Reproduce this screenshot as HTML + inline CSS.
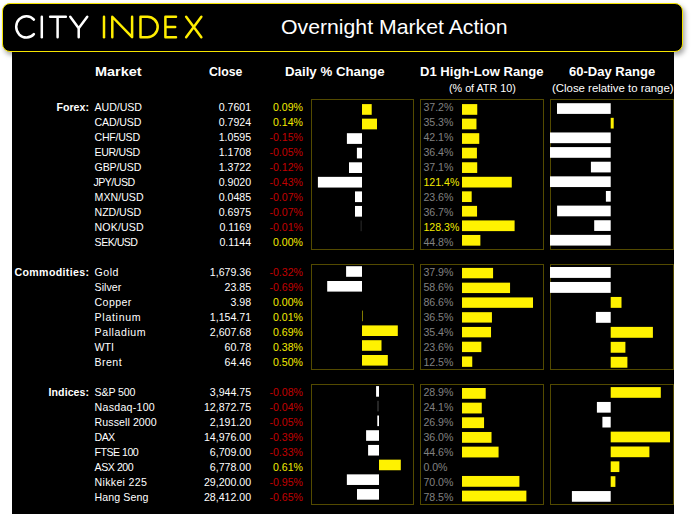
<!DOCTYPE html>
<html><head><meta charset="utf-8"><style>
*{margin:0;padding:0;box-sizing:border-box}
html,body{width:694px;height:514px;overflow:hidden;background:#fff}
body{position:relative;font-family:"Liberation Sans", sans-serif}
#main{position:absolute;left:12px;top:40px;width:662px;height:474px;background:#000}
#hdr{position:absolute;left:2px;top:3px;width:681px;height:49px;background:#000;border:1.6px solid #f5e400;border-radius:8px;box-shadow:2px 3px 5px rgba(0,0,0,.35)}
svg{position:absolute;left:0;top:0}
.t{position:absolute;white-space:nowrap;line-height:1em;transform-origin:0 0}
</style></head><body>
<div id="main"></div>
<div id="hdr"></div>
<svg width="694" height="514" viewBox="0 0 694 514">
<rect x="311.5" y="99.5" width="102" height="150" fill="none" stroke="#534a00" stroke-width="1"/>
<rect x="420.5" y="99.5" width="123" height="150" fill="none" stroke="#534a00" stroke-width="1"/>
<rect x="550.5" y="99.5" width="123" height="150" fill="none" stroke="#534a00" stroke-width="1"/>
<rect x="362.00" y="104.10" width="9.70" height="10.7" fill="#fff200"/>
<rect x="462" y="104.10" width="15.25" height="10.7" fill="#fff200"/>
<rect x="557.00" y="103.20" width="53.70" height="10.7" fill="#ffffff"/>
<rect x="362.00" y="118.65" width="15.00" height="10.7" fill="#fff200"/>
<rect x="462" y="118.64" width="14.47" height="10.7" fill="#fff200"/>
<rect x="610.70" y="117.83" width="3.00" height="10.7" fill="#fff200"/>
<rect x="346.90" y="133.20" width="15.10" height="10.7" fill="#ffffff"/>
<rect x="462" y="133.18" width="17.26" height="10.7" fill="#fff200"/>
<rect x="550.00" y="132.46" width="60.70" height="10.7" fill="#ffffff"/>
<rect x="356.90" y="147.75" width="5.10" height="10.7" fill="#ffffff"/>
<rect x="462" y="147.72" width="14.92" height="10.7" fill="#fff200"/>
<rect x="550.00" y="147.09" width="60.70" height="10.7" fill="#ffffff"/>
<rect x="349.00" y="162.30" width="13.00" height="10.7" fill="#ffffff"/>
<rect x="462" y="162.26" width="15.21" height="10.7" fill="#fff200"/>
<rect x="590.90" y="161.72" width="19.80" height="10.7" fill="#ffffff"/>
<rect x="317.90" y="176.85" width="44.10" height="10.7" fill="#ffffff"/>
<rect x="462" y="176.80" width="49.77" height="10.7" fill="#fff200"/>
<rect x="550.00" y="176.35" width="60.70" height="10.7" fill="#ffffff"/>
<rect x="355.00" y="191.40" width="7.00" height="10.7" fill="#ffffff"/>
<rect x="462" y="191.34" width="9.68" height="10.7" fill="#fff200"/>
<rect x="605.90" y="190.98" width="4.80" height="10.7" fill="#ffffff"/>
<rect x="355.00" y="205.95" width="7.00" height="10.7" fill="#ffffff"/>
<rect x="462" y="205.88" width="15.05" height="10.7" fill="#fff200"/>
<rect x="557.10" y="205.61" width="53.60" height="10.7" fill="#ffffff"/>
<rect x="360.40" y="220.50" width="1.6" height="10.7" fill="#1c1c1c"/>
<rect x="462" y="220.42" width="52.60" height="10.7" fill="#fff200"/>
<rect x="594.20" y="220.24" width="16.50" height="10.7" fill="#ffffff"/>
<rect x="462" y="234.96" width="18.37" height="10.7" fill="#fff200"/>
<rect x="550.00" y="234.87" width="60.70" height="10.7" fill="#ffffff"/>
<rect x="311.5" y="264.5" width="102" height="105" fill="none" stroke="#534a00" stroke-width="1"/>
<rect x="420.5" y="264.5" width="123" height="105" fill="none" stroke="#534a00" stroke-width="1"/>
<rect x="550.5" y="264.5" width="123" height="105" fill="none" stroke="#534a00" stroke-width="1"/>
<rect x="346.10" y="266.20" width="15.90" height="10.6" fill="#ffffff"/>
<rect x="462" y="267.90" width="31.08" height="10.4" fill="#fff200"/>
<rect x="550.00" y="267.00" width="60.70" height="10.9" fill="#ffffff"/>
<rect x="327.20" y="281.00" width="34.80" height="10.6" fill="#ffffff"/>
<rect x="462" y="282.66" width="48.05" height="10.4" fill="#fff200"/>
<rect x="550.00" y="281.97" width="60.70" height="10.9" fill="#ffffff"/>
<rect x="462" y="297.42" width="71.01" height="10.4" fill="#fff200"/>
<rect x="610.70" y="296.94" width="10.80" height="10.9" fill="#fff200"/>
<rect x="362.00" y="310.60" width="0.51" height="10.6" fill="#fff200"/>
<rect x="462" y="312.18" width="29.93" height="10.4" fill="#fff200"/>
<rect x="595.90" y="311.91" width="14.80" height="10.9" fill="#ffffff"/>
<rect x="362.00" y="325.40" width="35.80" height="10.6" fill="#fff200"/>
<rect x="462" y="326.94" width="29.03" height="10.4" fill="#fff200"/>
<rect x="610.70" y="326.88" width="42.20" height="10.9" fill="#fff200"/>
<rect x="362.00" y="340.20" width="19.50" height="10.6" fill="#fff200"/>
<rect x="462" y="341.70" width="19.35" height="10.4" fill="#fff200"/>
<rect x="610.70" y="341.85" width="14.70" height="10.9" fill="#fff200"/>
<rect x="362.00" y="355.00" width="25.80" height="10.6" fill="#fff200"/>
<rect x="462" y="356.46" width="10.25" height="10.4" fill="#fff200"/>
<rect x="610.70" y="356.82" width="16.70" height="10.9" fill="#fff200"/>
<rect x="311.5" y="384.5" width="102" height="120" fill="none" stroke="#534a00" stroke-width="1"/>
<rect x="420.5" y="384.5" width="123" height="120" fill="none" stroke="#534a00" stroke-width="1"/>
<rect x="550.5" y="384.5" width="123" height="120" fill="none" stroke="#534a00" stroke-width="1"/>
<rect x="376.10" y="386.10" width="2.90" height="10.6" fill="#ffffff"/>
<rect x="462" y="388.00" width="23.70" height="10.8" fill="#fff200"/>
<rect x="610.70" y="387.10" width="50.10" height="10.7" fill="#fff200"/>
<rect x="377.00" y="400.81" width="2" height="10.6" fill="#262626"/>
<rect x="462" y="402.66" width="19.76" height="10.8" fill="#fff200"/>
<rect x="596.90" y="401.95" width="13.80" height="10.7" fill="#ffffff"/>
<rect x="377.30" y="415.52" width="1.70" height="10.6" fill="#ffffff"/>
<rect x="462" y="417.32" width="22.06" height="10.8" fill="#fff200"/>
<rect x="602.40" y="416.80" width="8.30" height="10.7" fill="#ffffff"/>
<rect x="366.10" y="430.23" width="12.90" height="10.6" fill="#ffffff"/>
<rect x="462" y="431.98" width="29.52" height="10.8" fill="#fff200"/>
<rect x="610.70" y="431.65" width="59.30" height="10.7" fill="#fff200"/>
<rect x="368.10" y="444.94" width="10.90" height="10.6" fill="#ffffff"/>
<rect x="462" y="446.64" width="36.57" height="10.8" fill="#fff200"/>
<rect x="610.70" y="446.50" width="38.70" height="10.7" fill="#fff200"/>
<rect x="379.00" y="459.65" width="21.80" height="10.6" fill="#fff200"/>
<rect x="610.70" y="461.35" width="8.65" height="10.7" fill="#fff200"/>
<rect x="346.85" y="474.36" width="32.15" height="10.6" fill="#ffffff"/>
<rect x="462" y="475.96" width="57.40" height="10.8" fill="#fff200"/>
<rect x="610.70" y="476.20" width="4.70" height="10.7" fill="#fff200"/>
<rect x="357.00" y="489.07" width="22.00" height="10.6" fill="#ffffff"/>
<rect x="462" y="490.62" width="64.37" height="10.8" fill="#fff200"/>
<rect x="571.90" y="491.05" width="38.80" height="10.7" fill="#ffffff"/>
<g fill="none" stroke-linecap="round" stroke-linejoin="round" stroke-width="2.5">
<g stroke="#ffffff">
<path d="M33.9 19.6 A10.2 10.7 0 1 0 33.9 34.1"/>
<path d="M41.8 16.75 V37.2"/>
<path d="M50.15 16.75 H65.85 M57.6 16.75 V37.2"/>
<path d="M70.25 16.75 L78.7 28.3 L87.25 16.75 M78.7 28.3 V37.2"/>
</g>
<g stroke="#ffee00">
<path d="M104 16.75 V37.2"/>
<path d="M112.3 37.2 V16.75 L132.1 37.2 V16.75"/>
<path d="M140.5 16.75 V37.2 H147.5 A10.2 10.225 0 0 0 147.5 16.75 Z"/>
<path d="M176 16.75 H165.4 V37.2 H176 M165.4 26.95 H175.2"/>
<path d="M186.15 16.75 L201.35 37.2 M201.35 16.75 L186.15 37.2"/>
</g></g>
</svg>
<div class="t" style="left:280.60px;top:17.12px;font-size:20.3px;color:#ffffff;transform:scaleX(1.0473);">Overnight Market Action</div>
<div class="t" style="left:95.00px;top:66.33px;font-size:12.6px;color:#ffffff;font-weight:bold;transform:scaleX(1.1497);">Market</div>
<div class="t" style="left:209.40px;top:66.33px;font-size:12.6px;color:#ffffff;font-weight:bold;transform:scaleX(0.9741);">Close</div>
<div class="t" style="left:284.60px;top:66.33px;font-size:12.6px;color:#ffffff;font-weight:bold;transform:scaleX(1.0543);">Daily % Change</div>
<div class="t" style="left:419.80px;top:66.33px;font-size:12.6px;color:#ffffff;font-weight:bold;transform:scaleX(1.0376);">D1 High-Low Range</div>
<div class="t" style="left:569.20px;top:66.33px;font-size:12.6px;color:#ffffff;font-weight:bold;transform:scaleX(1.0350);">60-Day Range</div>
<div class="t" style="left:448.60px;top:82.93px;font-size:10.6px;color:#ffffff;transform:scaleX(1.0153);">(% of ATR 10)</div>
<div class="t" style="left:552.40px;top:82.93px;font-size:10.6px;color:#ffffff;transform:scaleX(1.0753);">(Close relative to range)</div>
<div class="t" style="left:56.40px;top:101.93px;font-size:10.6px;color:#ffffff;font-weight:bold;letter-spacing:0.050px;">Forex:</div>
<div class="t" style="left:94.60px;top:101.93px;font-size:10.6px;color:#ffffff;letter-spacing:-0.054px;">AUD/USD</div>
<div class="t" style="left:218.69px;top:101.93px;font-size:10.6px;color:#ffffff;">0.7601</div>
<div class="t" style="left:272.98px;top:101.93px;font-size:10.6px;color:#f2ea00;">0.09%</div>
<div class="t" style="left:423.40px;top:101.93px;font-size:10.6px;color:#808080;">37.2%</div>
<div class="t" style="left:94.60px;top:116.93px;font-size:10.6px;color:#ffffff;letter-spacing:-0.138px;">CAD/USD</div>
<div class="t" style="left:218.69px;top:116.93px;font-size:10.6px;color:#ffffff;">0.7924</div>
<div class="t" style="left:272.98px;top:116.93px;font-size:10.6px;color:#f2ea00;">0.14%</div>
<div class="t" style="left:423.40px;top:116.93px;font-size:10.6px;color:#808080;">35.3%</div>
<div class="t" style="left:94.60px;top:131.93px;font-size:10.6px;color:#ffffff;letter-spacing:-0.272px;">CHF/USD</div>
<div class="t" style="left:218.69px;top:131.93px;font-size:10.6px;color:#ffffff;">1.0595</div>
<div class="t" style="left:269.45px;top:131.93px;font-size:10.6px;color:#c00000;">-0.15%</div>
<div class="t" style="left:423.40px;top:131.93px;font-size:10.6px;color:#808080;">42.1%</div>
<div class="t" style="left:94.60px;top:146.93px;font-size:10.6px;color:#ffffff;letter-spacing:-0.371px;">EUR/USD</div>
<div class="t" style="left:218.69px;top:146.93px;font-size:10.6px;color:#ffffff;">1.1708</div>
<div class="t" style="left:269.45px;top:146.93px;font-size:10.6px;color:#c00000;">-0.05%</div>
<div class="t" style="left:423.40px;top:146.93px;font-size:10.6px;color:#808080;">36.4%</div>
<div class="t" style="left:94.60px;top:161.93px;font-size:10.6px;color:#ffffff;letter-spacing:-0.139px;">GBP/USD</div>
<div class="t" style="left:218.69px;top:161.93px;font-size:10.6px;color:#ffffff;">1.3722</div>
<div class="t" style="left:269.45px;top:161.93px;font-size:10.6px;color:#c00000;">-0.12%</div>
<div class="t" style="left:423.40px;top:161.93px;font-size:10.6px;color:#808080;">37.1%</div>
<div class="t" style="left:93.40px;top:176.93px;font-size:10.6px;color:#ffffff;letter-spacing:-0.498px;">JPY/USD</div>
<div class="t" style="left:218.69px;top:176.93px;font-size:10.6px;color:#ffffff;">0.9020</div>
<div class="t" style="left:269.45px;top:176.93px;font-size:10.6px;color:#c00000;">-0.43%</div>
<div class="t" style="left:423.40px;top:176.93px;font-size:10.6px;color:#f2ea00;">121.4%</div>
<div class="t" style="left:94.60px;top:191.93px;font-size:10.6px;color:#ffffff;letter-spacing:0.017px;">MXN/USD</div>
<div class="t" style="left:218.69px;top:191.93px;font-size:10.6px;color:#ffffff;">0.0485</div>
<div class="t" style="left:269.45px;top:191.93px;font-size:10.6px;color:#c00000;">-0.07%</div>
<div class="t" style="left:423.40px;top:191.93px;font-size:10.6px;color:#808080;">23.6%</div>
<div class="t" style="left:94.60px;top:206.93px;font-size:10.6px;color:#ffffff;letter-spacing:-0.072px;">NZD/USD</div>
<div class="t" style="left:218.69px;top:206.93px;font-size:10.6px;color:#ffffff;">0.6975</div>
<div class="t" style="left:269.45px;top:206.93px;font-size:10.6px;color:#c00000;">-0.07%</div>
<div class="t" style="left:423.40px;top:206.93px;font-size:10.6px;color:#808080;">36.7%</div>
<div class="t" style="left:94.60px;top:221.93px;font-size:10.6px;color:#ffffff;letter-spacing:0.114px;">NOK/USD</div>
<div class="t" style="left:219.48px;top:221.93px;font-size:10.6px;color:#ffffff;">0.1169</div>
<div class="t" style="left:269.45px;top:221.93px;font-size:10.6px;color:#c00000;">-0.01%</div>
<div class="t" style="left:423.40px;top:221.93px;font-size:10.6px;color:#f2ea00;">128.3%</div>
<div class="t" style="left:94.60px;top:236.93px;font-size:10.6px;color:#ffffff;letter-spacing:-0.526px;">SEK/USD</div>
<div class="t" style="left:219.48px;top:236.93px;font-size:10.6px;color:#ffffff;">0.1144</div>
<div class="t" style="left:272.98px;top:236.93px;font-size:10.6px;color:#f2ea00;">0.00%</div>
<div class="t" style="left:423.40px;top:236.93px;font-size:10.6px;color:#808080;">44.8%</div>
<div class="t" style="left:14.50px;top:266.93px;font-size:10.6px;color:#ffffff;font-weight:bold;letter-spacing:0.354px;">Commodities:</div>
<div class="t" style="left:94.60px;top:266.93px;font-size:10.6px;color:#ffffff;letter-spacing:0.505px;">Gold</div>
<div class="t" style="left:209.85px;top:266.93px;font-size:10.6px;color:#ffffff;">1,679.36</div>
<div class="t" style="left:269.45px;top:266.93px;font-size:10.6px;color:#c00000;">-0.32%</div>
<div class="t" style="left:423.40px;top:266.93px;font-size:10.6px;color:#808080;">37.9%</div>
<div class="t" style="left:94.60px;top:281.93px;font-size:10.6px;color:#ffffff;letter-spacing:0.048px;">Silver</div>
<div class="t" style="left:224.58px;top:281.93px;font-size:10.6px;color:#ffffff;">23.85</div>
<div class="t" style="left:269.45px;top:281.93px;font-size:10.6px;color:#c00000;">-0.69%</div>
<div class="t" style="left:423.40px;top:281.93px;font-size:10.6px;color:#808080;">58.6%</div>
<div class="t" style="left:94.60px;top:296.93px;font-size:10.6px;color:#ffffff;letter-spacing:0.377px;">Copper</div>
<div class="t" style="left:230.47px;top:296.93px;font-size:10.6px;color:#ffffff;">3.98</div>
<div class="t" style="left:272.98px;top:296.93px;font-size:10.6px;color:#f2ea00;">0.00%</div>
<div class="t" style="left:423.40px;top:296.93px;font-size:10.6px;color:#808080;">86.6%</div>
<div class="t" style="left:94.60px;top:311.93px;font-size:10.6px;color:#ffffff;letter-spacing:0.687px;">Platinum</div>
<div class="t" style="left:209.85px;top:311.93px;font-size:10.6px;color:#ffffff;">1,154.71</div>
<div class="t" style="left:272.98px;top:311.93px;font-size:10.6px;color:#f2ea00;">0.01%</div>
<div class="t" style="left:423.40px;top:311.93px;font-size:10.6px;color:#808080;">36.5%</div>
<div class="t" style="left:94.60px;top:326.93px;font-size:10.6px;color:#ffffff;letter-spacing:0.563px;">Palladium</div>
<div class="t" style="left:209.85px;top:326.93px;font-size:10.6px;color:#ffffff;">2,607.68</div>
<div class="t" style="left:272.98px;top:326.93px;font-size:10.6px;color:#f2ea00;">0.69%</div>
<div class="t" style="left:423.40px;top:326.93px;font-size:10.6px;color:#808080;">35.4%</div>
<div class="t" style="left:94.60px;top:341.93px;font-size:10.6px;color:#ffffff;letter-spacing:-0.085px;">WTI</div>
<div class="t" style="left:224.58px;top:341.93px;font-size:10.6px;color:#ffffff;">60.78</div>
<div class="t" style="left:272.98px;top:341.93px;font-size:10.6px;color:#f2ea00;">0.38%</div>
<div class="t" style="left:423.40px;top:341.93px;font-size:10.6px;color:#808080;">23.6%</div>
<div class="t" style="left:94.60px;top:356.93px;font-size:10.6px;color:#ffffff;letter-spacing:0.431px;">Brent</div>
<div class="t" style="left:224.58px;top:356.93px;font-size:10.6px;color:#ffffff;">64.46</div>
<div class="t" style="left:272.98px;top:356.93px;font-size:10.6px;color:#f2ea00;">0.50%</div>
<div class="t" style="left:423.40px;top:356.93px;font-size:10.6px;color:#808080;">12.5%</div>
<div class="t" style="left:48.60px;top:386.93px;font-size:10.6px;color:#ffffff;font-weight:bold;letter-spacing:0.057px;">Indices:</div>
<div class="t" style="left:94.60px;top:386.93px;font-size:10.6px;color:#ffffff;letter-spacing:-0.121px;">S&amp;P 500</div>
<div class="t" style="left:209.85px;top:386.93px;font-size:10.6px;color:#ffffff;">3,944.75</div>
<div class="t" style="left:269.45px;top:386.93px;font-size:10.6px;color:#c00000;">-0.08%</div>
<div class="t" style="left:423.40px;top:386.93px;font-size:10.6px;color:#808080;">28.9%</div>
<div class="t" style="left:94.60px;top:401.93px;font-size:10.6px;color:#ffffff;letter-spacing:0.264px;">Nasdaq-100</div>
<div class="t" style="left:203.96px;top:401.93px;font-size:10.6px;color:#ffffff;">12,872.75</div>
<div class="t" style="left:269.45px;top:401.93px;font-size:10.6px;color:#c00000;">-0.04%</div>
<div class="t" style="left:423.40px;top:401.93px;font-size:10.6px;color:#808080;">24.1%</div>
<div class="t" style="left:94.60px;top:416.93px;font-size:10.6px;color:#ffffff;letter-spacing:0.077px;">Russell 2000</div>
<div class="t" style="left:209.85px;top:416.93px;font-size:10.6px;color:#ffffff;">2,191.20</div>
<div class="t" style="left:269.45px;top:416.93px;font-size:10.6px;color:#c00000;">-0.05%</div>
<div class="t" style="left:423.40px;top:416.93px;font-size:10.6px;color:#808080;">26.9%</div>
<div class="t" style="left:94.60px;top:431.93px;font-size:10.6px;color:#ffffff;letter-spacing:-0.608px;">DAX</div>
<div class="t" style="left:203.96px;top:431.93px;font-size:10.6px;color:#ffffff;">14,976.00</div>
<div class="t" style="left:269.45px;top:431.93px;font-size:10.6px;color:#c00000;">-0.39%</div>
<div class="t" style="left:423.40px;top:431.93px;font-size:10.6px;color:#808080;">36.0%</div>
<div class="t" style="left:94.60px;top:446.93px;font-size:10.6px;color:#ffffff;letter-spacing:-0.514px;">FTSE 100</div>
<div class="t" style="left:209.85px;top:446.93px;font-size:10.6px;color:#ffffff;">6,709.00</div>
<div class="t" style="left:269.45px;top:446.93px;font-size:10.6px;color:#c00000;">-0.33%</div>
<div class="t" style="left:423.40px;top:446.93px;font-size:10.6px;color:#808080;">44.6%</div>
<div class="t" style="left:94.60px;top:461.93px;font-size:10.6px;color:#ffffff;letter-spacing:-0.454px;">ASX 200</div>
<div class="t" style="left:209.85px;top:461.93px;font-size:10.6px;color:#ffffff;">6,778.00</div>
<div class="t" style="left:272.98px;top:461.93px;font-size:10.6px;color:#f2ea00;">0.61%</div>
<div class="t" style="left:423.40px;top:461.93px;font-size:10.6px;color:#808080;">0.0%</div>
<div class="t" style="left:94.60px;top:476.93px;font-size:10.6px;color:#ffffff;letter-spacing:0.303px;">Nikkei 225</div>
<div class="t" style="left:203.96px;top:476.93px;font-size:10.6px;color:#ffffff;">29,200.00</div>
<div class="t" style="left:269.45px;top:476.93px;font-size:10.6px;color:#c00000;">-0.95%</div>
<div class="t" style="left:423.40px;top:476.93px;font-size:10.6px;color:#808080;">70.0%</div>
<div class="t" style="left:94.60px;top:491.93px;font-size:10.6px;color:#ffffff;letter-spacing:0.085px;">Hang Seng</div>
<div class="t" style="left:203.96px;top:491.93px;font-size:10.6px;color:#ffffff;">28,412.00</div>
<div class="t" style="left:269.45px;top:491.93px;font-size:10.6px;color:#c00000;">-0.65%</div>
<div class="t" style="left:423.40px;top:491.93px;font-size:10.6px;color:#808080;">78.5%</div>
</body></html>
